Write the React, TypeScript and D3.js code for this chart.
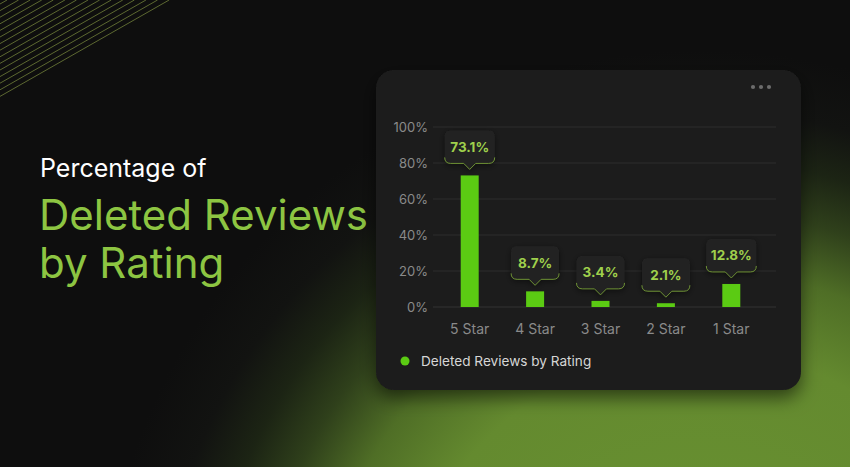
import React from "react";
import * as d3 from "d3";

const categories = ["5 Star", "4 Star", "3 Star", "2 Star", "1 Star"];
const values = [73.1, 8.7, 3.4, 2.1, 12.8];
const yTicks = [0, 20, 40, 60, 80, 100];
const seriesName = "Deleted Reviews by Rating";

const W = 850;
const H = 467;

export default function App() {
  const x = d3.scaleBand<string>().domain(categories).range([437, 764]).paddingInner(0.72).paddingOuter(0.36);
  const y = d3.scaleLinear().domain([0, 100]).range([307, 127]);
  const barW = 18;

  const stripes = d3.range(15).map((i) => 4 + i * 6.6);
  const slope = 0.57;

  const font = "Inter, 'Open Sans', sans-serif";

  return (
    <svg width={W} height={H} style={{ position: "absolute", left: 0, top: 0, display: "block" }}>
      <defs>
        <radialGradient id="bgGlow" gradientUnits="userSpaceOnUse" cx={700} cy={650} r={600}>
          <stop offset="0" stopColor="#6a9432" />
          <stop offset="0.5" stopColor="#648a2f" />
          <stop offset="0.633" stopColor="#4f6e26" />
          <stop offset="0.733" stopColor="#2f401b" />
          <stop offset="0.817" stopColor="#1c2414" />
          <stop offset="0.9" stopColor="#121311" />
          <stop offset="1" stopColor="#0e0e0e" />
        </radialGradient>
        <filter id="cardShadow" x="-20%" y="-20%" width="140%" height="150%">
          <feDropShadow dx="0" dy="8" stdDeviation="9" floodColor="#000" floodOpacity="0.55" />
        </filter>
        <filter id="tipShadow" x="-30%" y="-30%" width="160%" height="180%">
          <feDropShadow dx="0" dy="2" stdDeviation="3" floodColor="#000" floodOpacity="0.5" />
        </filter>
      </defs>
      <rect x={0} y={0} width={W} height={H} fill="#0e0e0e" />
      <rect x={0} y={0} width={W} height={H} fill="url(#bgGlow)" />

      {stripes.map((b, i) => (
        <line key={i} x1={0} y1={b} x2={b / slope} y2={0} stroke="#75853c" strokeWidth={0.9} opacity={0.85} />
      ))}

      <g fontFamily={font}>
        <text x={40} y={177} fontSize={25} fill="#ffffff">Percentage of</text>
        <text x={39} y={230} fontSize={42} fill="#8dc542">Deleted Reviews</text>
        <text x={39} y={278} fontSize={42} fill="#8dc542">by Rating</text>
      </g>

      <rect x={376} y={70} width={425} height={320} rx={18} fill="#1c1c1c" filter="url(#cardShadow)" />

      {[753, 761, 769].map((cx) => (
        <circle key={cx} cx={cx} cy={87} r={2.1} fill="#6c6c6c" />
      ))}

      <g fontFamily={font}>
        {yTicks.map((t) => (
          <g key={t}>
            <line x1={433} x2={776} y1={y(t)} y2={y(t)} stroke={t === 0 ? "#333333" : "#2c2c2c"} strokeWidth={1} />
            <text x={428} y={y(t)} dy="0.35em" textAnchor="end" fontSize={13} fill="#8a8a8a">
              {t}%
            </text>
          </g>
        ))}

        {categories.map((c, i) => {
          const cx = (x(c) as number) + x.bandwidth() / 2;
          const top = y(values[i]);
          const tip = top - 6;
          const bb = tip - 6;
          const bh = 33;
          const label = values[i].toFixed(1) + "%";
          const bw = label.length >= 5 ? 50 : 48;
          const l = cx - bw / 2;
          const r = cx + bw / 2;
          const rad = 6;
          const boxPath = `M${l + rad},${bb - bh} H${r - rad} Q${r},${bb - bh} ${r},${bb - bh + rad} V${bb - rad} Q${r},${bb} ${r - rad},${bb} H${cx + 6} L${cx},${tip} L${cx - 6},${bb} H${l + rad} Q${l},${bb} ${l},${bb - rad} V${bb - bh + rad} Q${l},${bb - bh} ${l + rad},${bb - bh} Z`;
          const edgePath = `M${l},${bb - rad} Q${l},${bb} ${l + rad},${bb} H${cx - 6} L${cx},${tip} L${cx + 6},${bb} H${r - rad} Q${r},${bb} ${r},${bb - rad}`;
          return (
            <g key={c}>
              <rect x={cx - barW / 2} y={top} width={barW} height={y(0) - top} fill="#5bcb13" />
              <path d={boxPath} fill="#242424" filter="url(#tipShadow)" />
              <path d={edgePath} fill="none" stroke="#6e9234" strokeWidth={1} />
              <text x={cx} y={bb - bh / 2} dy="0.36em" textAnchor="middle" fontSize={13.5} fontWeight={700} fill="#9fd04c">
                {label}
              </text>
              <text x={cx} y={329} dy="0.36em" textAnchor="middle" fontSize={14} fill="#8a8a8a">
                {c}
              </text>
            </g>
          );
        })}

        <circle cx={405} cy={361} r={4.5} fill="#5bcb13" />
        <text x={421} y={361} dy="0.36em" fontSize={13.6} fill="#d6d6d6">
          {seriesName}
        </text>
      </g>
    </svg>
  );
}
